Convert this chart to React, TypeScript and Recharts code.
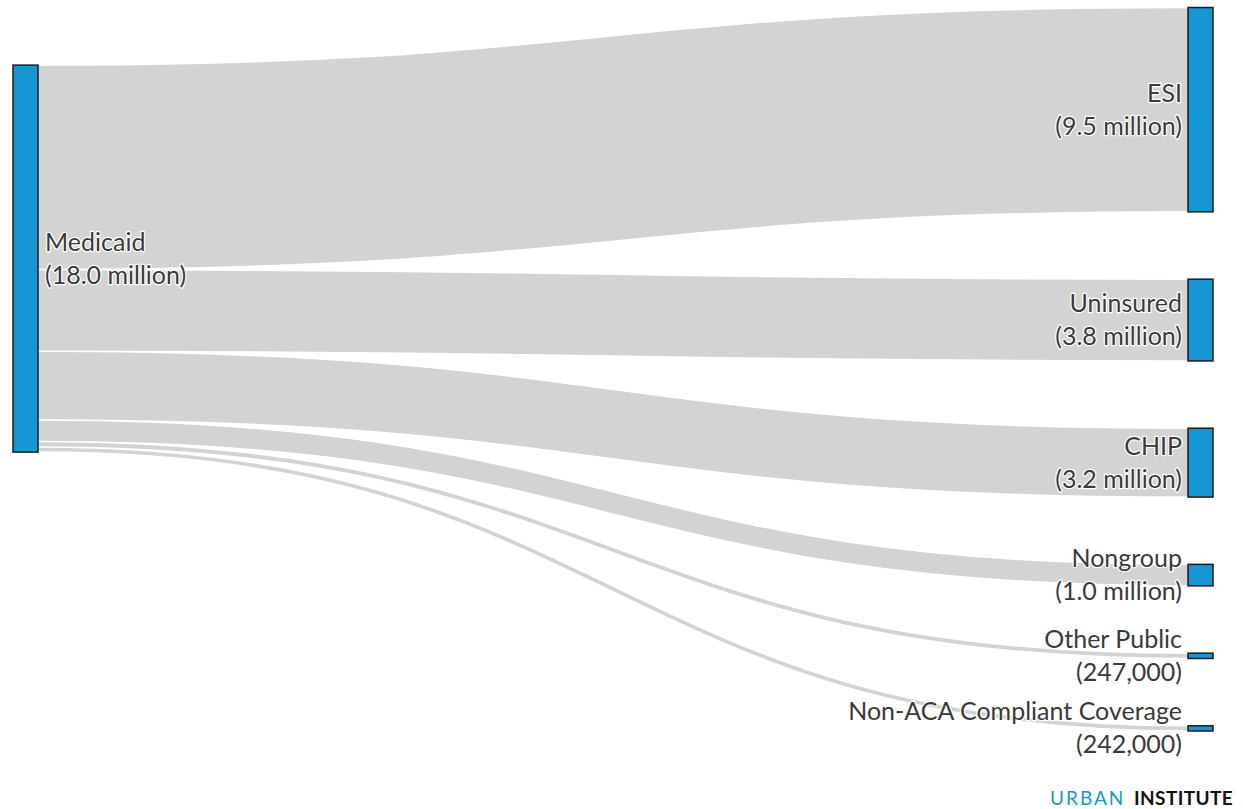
import { Sankey } from "recharts";

const nodeNames = [
  "Medicaid",
  "ESI",
  "Uninsured",
  "CHIP",
  "Nongroup",
  "Other Public",
  "Non-ACA Compliant Coverage"
];
const nodeLabels = [
  "(18.0 million)",
  "(9.5 million)",
  "(3.8 million)",
  "(3.2 million)",
  "(1.0 million)",
  "(247,000)",
  "(242,000)"
];
// flows out of Medicaid, in millions, matching nodeNames[1..]
const flowValues = [9.5, 3.8, 3.2, 1.0, 0.247, 0.242];

const data = {
  nodes: nodeNames.map((name, i) => ({ name, label: nodeLabels[i] })),
  links: flowValues.map((value, i) => ({ source: 0, target: i + 1, value }))
};

const BLUE = "#1696d2";
const TEXT = "#3a3a3a";
const FONT = "Lato, 'Open Sans', sans-serif";

function renderNode(props: any) {
  const { x, y, width, height, payload, index } = props;
  const left = payload.depth === 0 || index === 0;
  const cy = y + height / 2;
  const tx = left ? x + width + 7 : x - 6;
  const anchor = left ? "start" : "end";
  const textStyle = {
    fontFamily: FONT,
    fontSize: 25,
    fill: TEXT,
    stroke: "#fff",
    strokeWidth: 2.5,
    paintOrder: "stroke" as const,
    strokeLinejoin: "round" as const
  };
  return (
    <g key={`node-${index}`}>
      <rect x={x} y={y} width={width} height={height} fill={BLUE} stroke="#1c1c1c" strokeWidth={1.5} />
      <text x={tx} y={cy - 8} textAnchor={anchor} style={textStyle}>
        {payload.name}
      </text>
      <text x={tx} y={cy + 25} textAnchor={anchor} style={textStyle}>
        {payload.label}
      </text>
    </g>
  );
}

function renderLink(props: any) {
  const { sourceX, targetX, sourceY, targetY, sourceControlX, targetControlX, linkWidth, index } = props;
  return (
    <path
      key={`link-${index}`}
      d={`M${sourceX},${sourceY} C${sourceControlX},${sourceY} ${targetControlX},${targetY} ${targetX},${targetY}`}
      fill="none"
      stroke="#d3d3d3"
      strokeWidth={Math.max(1, linkWidth - 1.5)}
    />
  );
}

export default function App() {
  return (
    <div style={{ position: "absolute", left: 0, top: 0, width: 1243, height: 809, background: "#fff", overflow: "hidden" }}>
      <Sankey
        width={1243}
        height={809}
        data={data}
        node={renderNode}
        link={renderLink}
        nodeWidth={25}
        nodePadding={67.3}
        iterations={32}
        margin={{ top: 7.5, left: 13, right: 30, bottom: 78 }}
      />
      <svg width={1243} height={809} style={{ position: "absolute", left: 0, top: 0, pointerEvents: "none" }}>
        <text x={1050} y={805} fill={BLUE} style={{ fontFamily: FONT, fontSize: 19, letterSpacing: 2 }}>
          URBAN
        </text>
        <text x={1134} y={805} fill="#111" fontWeight="bold" style={{ fontFamily: FONT, fontSize: 19, letterSpacing: 0.4 }}>
          INSTITUTE
        </text>
      </svg>
    </div>
  );
}
